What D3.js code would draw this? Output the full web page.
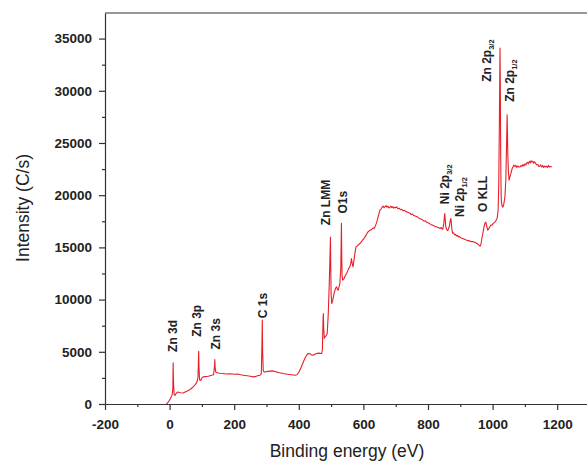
<!DOCTYPE html>
<html>
<head>
<meta charset="utf-8">
<script src="https://cdn.jsdelivr.net/npm/d3@7"></script>
<style>
  body { margin: 0; background: #fff; }
  svg { display: block; font-family: "Liberation Sans", Arial, sans-serif; }
  .axis .tick text { font-weight: bold; font-size: 13.5px; fill: #222; font-family: "Liberation Sans", Arial, sans-serif; }
  .axis path, .axis line { stroke: #333; stroke-width: 1.2; }
  .peak-label { font-weight: bold; font-size: 12px; fill: #222; }
  .axis-title { font-size: 17.5px; fill: #222; }
</style>
</head>
<body>
<svg id="chart"></svg>
<script>
// XPS survey spectrum
const energy = [
  -10, -5, 0, 5, 8, 10, 11, 12, 14, 17, 20, 25, 30, 35, 42, 48, 55, 63, 70, 78,
  85, 88, 90, 91, 93, 96, 100, 104, 110, 120, 130, 136, 139, 140, 141, 143, 148, 155, 166, 175,
  185, 195, 202, 210, 220, 228, 240, 250, 259, 265, 272, 280, 284, 286, 287, 288, 290, 292, 300, 310,
  321, 330, 340, 352, 365, 378, 388, 394, 401, 407, 414, 420, 425, 429, 435, 440, 445, 450, 455, 462,
  467, 471, 473, 475, 476, 477, 479, 481, 485, 488, 491, 494, 496, 498, 499, 500, 502, 505, 507, 510,
  514, 517, 520, 522, 525, 527, 530, 532, 533, 534, 536, 540, 544, 548, 552, 555, 558, 561, 563, 565,
  568, 571, 574, 577, 580, 583, 586, 589, 593, 597, 601, 605, 609, 613, 617, 620, 625, 630, 633, 636,
  640, 643, 647, 651, 655, 658, 661, 664, 667, 670, 673, 676, 679, 682, 685, 688, 691, 694, 697, 700,
  703, 707, 711, 715, 719, 723, 727, 731, 735, 739, 744, 748, 752, 756, 760, 764, 768, 772, 776, 780,
  784, 788, 792, 796, 800, 804, 808, 812, 815, 819, 823, 827, 831, 835, 837, 841, 844, 846, 849, 851,
  852, 853, 855, 858, 861, 864, 866, 869, 871, 872, 874, 876, 879, 882, 885, 888, 891, 894, 897, 899,
  903, 907, 911, 915, 920, 925, 930, 935, 940, 945, 950, 955, 958, 961, 964, 967, 970, 973, 976, 979,
  982, 985, 988, 992, 995, 998, 1002, 1007, 1010, 1014, 1017, 1019, 1021, 1022, 1023, 1024, 1025, 1026, 1027, 1029,
  1032, 1035, 1038, 1041, 1043, 1045, 1046, 1047, 1049, 1051, 1054, 1057, 1060, 1063, 1066, 1069, 1072, 1075, 1078, 1081,
  1085, 1088, 1091, 1094, 1097, 1100, 1103, 1105, 1108, 1111, 1114, 1117, 1119, 1121, 1124, 1127, 1129, 1131, 1134, 1137,
  1140, 1143, 1146, 1149, 1152, 1155, 1158, 1161, 1164, 1167, 1170, 1173, 1176, 1179, 1183
]
const counts = [
  0, 150, 380, 680, 900, 1500, 3950, 2200, 900, 820, 1000, 1150, 1100, 1080, 1060, 1150, 1250, 1390, 1550, 1800,
  2120, 2600, 5050, 3500, 2300, 2250, 2500, 2600, 2620, 2660, 2760, 2800, 3600, 4250, 3500, 3050, 3000, 2950, 2920, 2880,
  2900, 2870, 2850, 2880, 2800, 2760, 2700, 2650, 2600, 2620, 2700, 2760, 2900, 6000, 8050, 5000, 3200, 3080, 3100, 3150,
  3170, 3080, 3000, 2920, 2850, 2800, 2760, 2800, 3080, 3500, 4030, 4450, 4700, 4840, 4800, 4700, 4680, 4760, 4840, 4870,
  4850, 4840, 5200, 8000, 8670, 7300, 6300, 6430, 6550, 6750, 8500, 11200, 13500, 16000, 13000, 10500, 9630, 9900, 10260, 10700,
  11100, 11220, 10950, 10900, 11300, 11540, 13000, 17300, 14000, 12300, 11860, 12000, 12300, 12500, 12800, 13000, 13130, 13500, 13940, 13500,
  13130, 13800, 14500, 15050, 15100, 15200, 15300, 15370, 15500, 15700, 15800, 16010, 16200, 16450, 16550, 16650, 16700, 16850, 16800, 16970,
  17300, 17610, 18100, 18570, 18700, 18850, 18950, 18800, 18900, 19000, 18850, 18950, 18780, 18820, 18950, 18800, 18900, 18750, 18850, 18800,
  18880, 18700, 18750, 18600, 18650, 18500, 18550, 18450, 18400, 18350, 18280, 18150, 18200, 18050, 18000, 17950, 17900, 17800, 17750, 17700,
  17610, 17500, 17550, 17400, 17350, 17300, 17200, 17150, 17130, 17050, 17000, 16950, 16900, 16850, 16810, 16900, 16750, 16750, 17300, 18000,
  18250, 17800, 17000, 16700, 16600, 16840, 17000, 17600, 17770, 17400, 16700, 16360, 16400, 16200, 16250, 16100, 16150, 16000, 16050, 15980,
  15900, 15850, 15800, 15750, 15690, 15650, 15600, 15550, 15550, 15500, 15400, 15300, 15200, 15120, 15300, 15900, 16360, 16900, 17300, 17420,
  17000, 16650, 16800, 17000, 17150, 17130, 17300, 17420, 17550, 17800, 18500, 21000, 27000, 31000, 34100, 30000, 24000, 21000, 19520, 19000,
  18850, 19200, 19800, 21500, 24500, 27700, 26000, 24000, 22200, 21440, 21800, 22110, 22500, 22700, 22880, 22750, 22850, 22650, 22800, 22700,
  22710, 22850, 22750, 22950, 22800, 23000, 22900, 23040, 23150, 23000, 23250, 23100, 23300, 23190, 23250, 23050, 23200, 23160, 23000, 22900,
  22950, 22750, 22780, 22900, 22700, 22850, 22650, 22800, 22700, 22780, 22650, 22850, 22700, 22750, 22710
]

const xTicks = [-200, 0, 200, 400, 600, 800, 1000, 1200]
const xMinorTicks = [-100, 100, 300, 500, 700, 900, 1100]
const yTicks = [0, 5000, 10000, 15000, 20000, 25000, 30000, 35000]
const yMinorTicks = [2500, 7500, 12500, 17500, 22500, 27500, 32500]

// peak annotations: name, subscript, energy at label, intensity where label starts
const peakNames = ['Zn 3d', 'Zn 3p', 'Zn 3s', 'C 1s', 'Zn LMM', 'O1s', 'Ni 2p', 'Ni 2p', 'O KLL', 'Zn 2p', 'Zn 2p']
const peakSubs = ['', '', '', '', '', '', '3/2', '1/2', '', '3/2', '1/2']
const peakLabelEnergy = [11, 84, 143, 288, 484, 536, 852, 897, 971, 981, 1054]
const peakLabelCounts = [4990, 6430, 5220, 8220, 17130, 18250, 19140, 17920, 18400, 30860, 28940]

const width = 587
const height = 462

const svg = d3.select('svg#chart').attr('width', width).attr('height', height)

const xScale = d3.scaleLinear().domain([-200, 1300]).range([105, 589.5])
const yScale = d3.scaleLinear().domain([0, 37450]).range([404, 13])

// plain integer labels, ascii minus
const tickFmt = d => String(d)

// frame top
svg.append('line')
  .attr('x1', 105).attr('x2', width + 5)
  .attr('y1', 13).attr('y2', 13)
  .attr('stroke', '#333').attr('stroke-width', 1.2)

// x axis
let axisX = svg.append('g').attr('class', 'axis')
  .attr('transform', 'translate(0,' + yScale(0) + ')')
  .call(d3.axisBottom(xScale).tickValues(xTicks).tickFormat(tickFmt).tickSize(6).tickSizeOuter(0).tickPadding(9))
let axisXMinor = svg.append('g').attr('class', 'axis')
  .attr('transform', 'translate(0,' + yScale(0) + ')')
  .call(d3.axisBottom(xScale).tickValues(xMinorTicks).tickSize(3).tickFormat(''))
axisXMinor.select('.domain').remove()

// y axis
let axisY = svg.append('g').attr('class', 'axis')
  .attr('transform', 'translate(' + xScale(-200) + ',0)')
  .call(d3.axisLeft(yScale).tickValues(yTicks).tickFormat(tickFmt).tickSize(6).tickSizeOuter(0).tickPadding(7))
let axisYMinor = svg.append('g').attr('class', 'axis')
  .attr('transform', 'translate(' + xScale(-200) + ',0)')
  .call(d3.axisLeft(yScale).tickValues(yMinorTicks).tickSize(3).tickFormat(''))
axisYMinor.select('.domain').remove()

// spectrum
const points = energy.map((e, i) => [e, counts[i]])
const line = d3.line().x(d => xScale(d[0])).y(d => yScale(d[1]))
svg.append('path')
  .datum(points)
  .attr('d', line)
  .attr('fill', 'none')
  .attr('stroke', '#e8202a')
  .attr('stroke-width', 1.1)
  .attr('stroke-linejoin', 'round')

// peak labels, written bottom to top
peakNames.forEach((name, i) => {
  const t = svg.append('text').attr('class', 'peak-label')
    .attr('transform', 'translate(' + xScale(peakLabelEnergy[i]) + ',' + yScale(peakLabelCounts[i]) + ') rotate(-90)')
    .attr('dy', '0.35em')
  t.append('tspan').text(name)
  if (peakSubs[i]) {
    t.append('tspan').attr('dy', 3).style('font-size', '7.5px').text(peakSubs[i])
  }
})

// axis titles
svg.append('text').attr('class', 'axis-title')
  .attr('x', 347).attr('y', 456.5)
  .attr('text-anchor', 'middle')
  .text('Binding energy (eV)')

svg.append('text').attr('class', 'axis-title')
  .attr('transform', 'translate(28.5,208) rotate(-90)')
  .attr('text-anchor', 'middle')
  .text('Intensity (C/s)')
</script>
</body>
</html>
